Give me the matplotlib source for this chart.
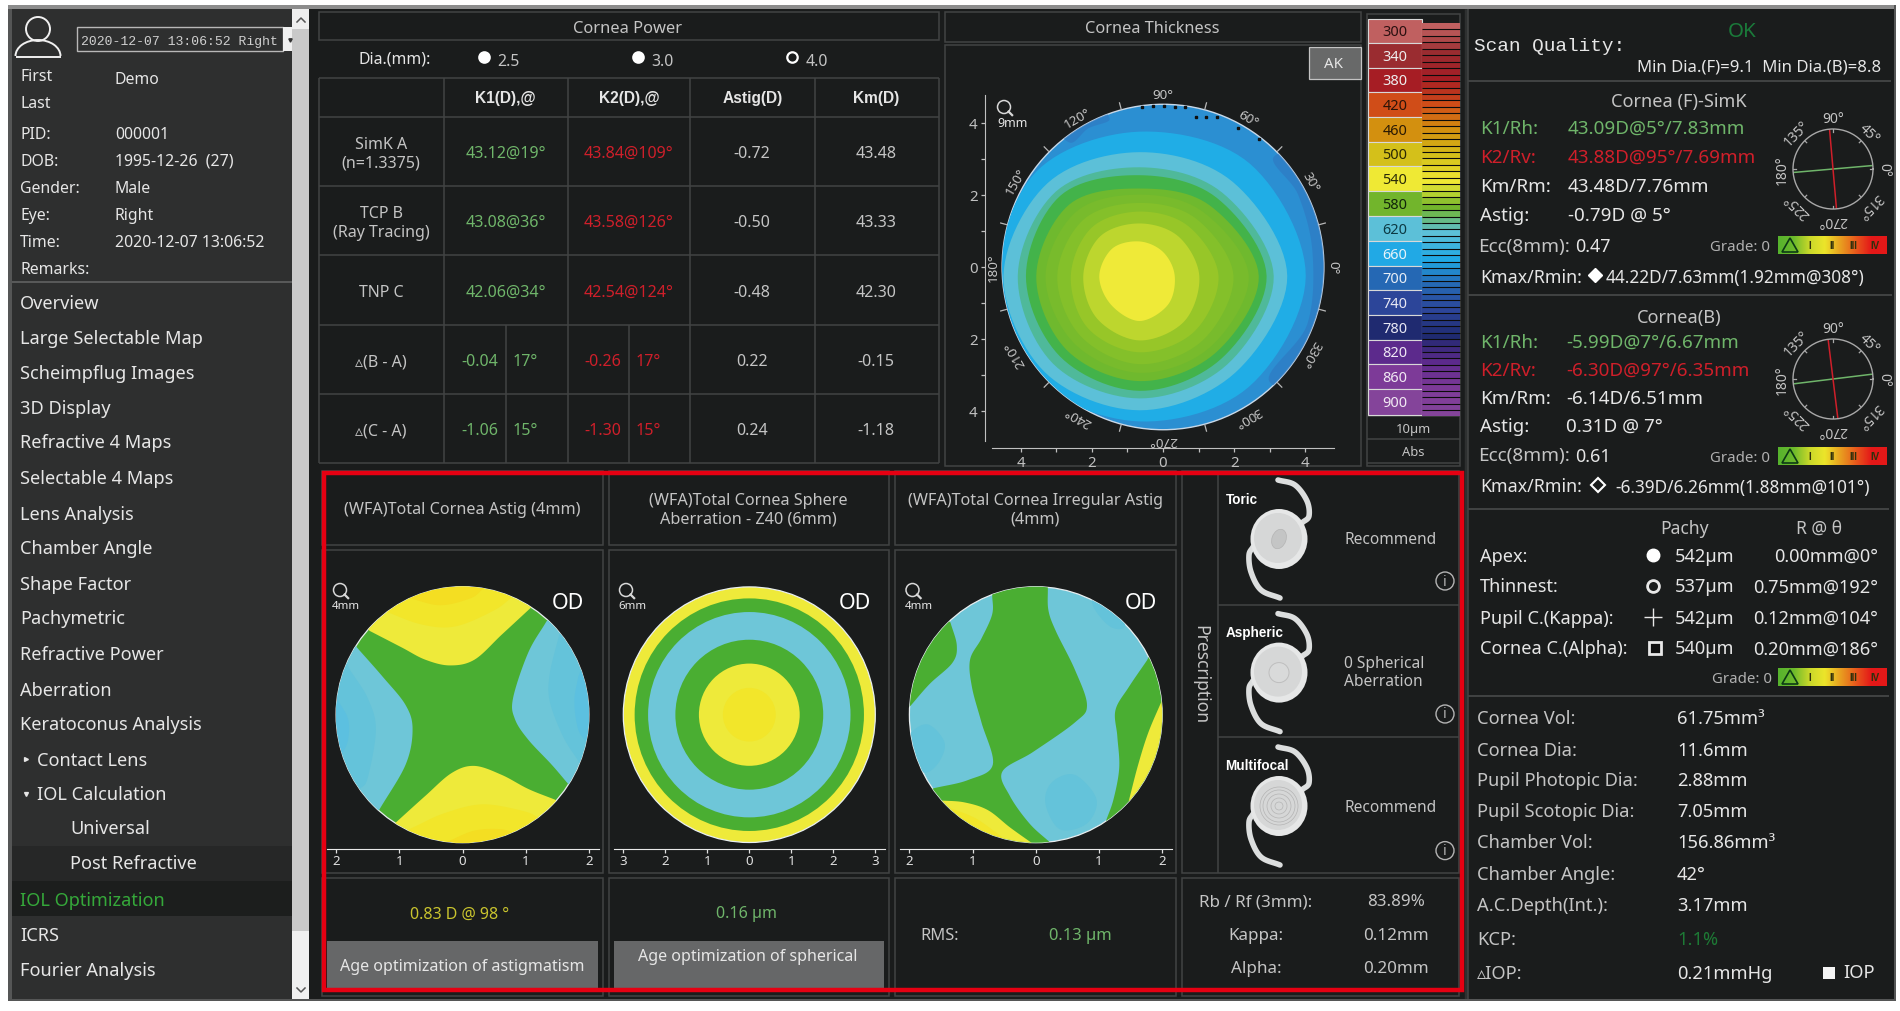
import numpy as np
import matplotlib
matplotlib.use('Agg')
import matplotlib.pyplot as plt
from matplotlib.patches import Rectangle, Ellipse, Polygon, Circle, Arc
from matplotlib.colors import LinearSegmentedColormap

plt.rcParams['font.family'] = ['Noto Sans', 'DejaVu Sans']

W, H = 1900, 1012
BG = '#1a1c1c'
PANEL = '#2e2f2f'
LINE = '#424444'
TXT = '#c4c4c4'
WHITE = '#e6e6e6'
GREEN = '#6fb56a'
RED = '#cf1f2a'
FRAME = '#e60012'
BOLD = ['Liberation Sans', 'DejaVu Sans']

# ---- left column
COMBO_TEXT = '2020-12-07 13:06:52 Right'
PATIENT_LABELS = ['First', 'Last', 'PID:', 'DOB:', 'Gender:', 'Eye:', 'Time:', 'Remarks:']
PATIENT_VALUES = ['Demo', '', '000001', '1995-12-26  (27)', 'Male', 'Right', '2020-12-07 13:06:52', '']
NAV_ITEMS = ['Overview', 'Large Selectable Map', 'Scheimpflug Images', '3D Display',
             'Refractive 4 Maps', 'Selectable 4 Maps', 'Lens Analysis', 'Chamber Angle',
             'Shape Factor', 'Pachymetric', 'Refractive Power', 'Aberration',
             'Keratoconus Analysis', 'Contact Lens', 'IOL Calculation', 'Universal',
             'Post Refractive', 'IOL Optimization', 'ICRS', 'Fourier Analysis', 'Compare 2 Exams']

# ---- cornea power table
DIA_VALUES = ['2.5', '3.0', '4.0']
TABLE_HEAD = ['K1(D),@', 'K2(D),@', 'Astig(D)', 'Km(D)']
ROW_NAMES = ['SimK A\n(n=1.3375)', 'TCP B\n(Ray Tracing)', 'TNP C', '\u25b5(B - A)', '\u25b5(C - A)']
K1_VALUES = ['43.12@19°', '43.08@36°', '42.06@34°']
K2_VALUES = ['43.84@109°', '43.58@126°', '42.54@124°']
K1_DELTA = [('-0.04', '17°'), ('-1.06', '15°')]
K2_DELTA = [('-0.26', '17°'), ('-1.30', '15°')]
ASTIG_VALUES = ['-0.72', '-0.50', '-0.48', '0.22', '0.24']
KM_VALUES = ['43.48', '43.33', '42.30', '-0.15', '-1.18']

# ---- thickness map
LEGEND_VALUES = [300, 340, 380, 420, 460, 500, 540, 580, 620, 660, 700, 740, 780, 820, 860, 900]
LEGEND_COLORS = ['#c06060', '#9a2c30', '#a61d24', '#d04d18', '#d3900f', '#d4c01a', '#efe934', '#72b52c',
                 '#5cc0d8', '#21a9e5', '#2568b4', '#2c4599', '#1f2a70', '#5c2a8c', '#7d3a98', '#84449a']
LEGEND_TEXT = ['#2a1010', '#eeeeee', '#eeeeee', '#2a1408', '#2a1a04', '#2a2804', '#2a2a08', '#10240a',
               '#0c3a44', '#e8f4fa', '#e8eef6', '#e8e8f4', '#e8e8f4', '#eee8f4', '#f2eaf4', '#f2eaf4']
STRIP_VALUES = np.arange(300, 910, 10)
THICK_DIRS = np.radians([0, 45, 90, 135, 180, 225, 270, 315])
THICK_CENTER = (-0.66, -0.25)
THICK_COLORS = ['#20ade6', '#5cc0d8', '#4fb99a', '#43b34a', '#6fb92e', '#78bb2c', '#84c02a', '#97c628', '#bdd62e', '#efea38']
THICK_BANDS = [
    [4.67, 4.40, 4.01, 4.10, 3.96, 4.06, 4.04, 4.35],
    [4.15, 3.70, 3.44, 3.65, 3.82, 3.77, 3.73, 3.80],
    [3.77, 3.28, 3.02, 3.32, 3.42, 3.44, 3.40, 3.48],
    [3.57, 3.07, 2.80, 3.15, 3.19, 3.16, 3.19, 3.25],
    [3.35, 2.78, 2.43, 2.80, 2.90, 2.90, 2.92, 3.02],
    [3.07, 2.52, 2.26, 2.52, 2.64, 2.62, 2.69, 2.80],
    [2.64, 2.25, 2.03, 2.22, 2.31, 2.35, 2.45, 2.52],
    [2.22, 1.95, 1.79, 1.90, 1.93, 2.05, 2.12, 2.18],
    [1.68, 1.55, 1.46, 1.56, 1.58, 1.68, 1.79, 1.78],
    [0.99, 0.94, 0.96, 1.08, 1.13, 1.13, 1.25, 1.13],
]
THICK_DOTS_X = [-0.59, -0.28, 0.02, 0.33, 0.62, 0.92, 1.22, 1.52, 2.12, 2.71]
THICK_DOTS_Y = [4.45, 4.47, 4.47, 4.45, 4.45, 4.16, 4.16, 4.16, 3.86, 3.55]
THICK_ANGLES = [0, 30, 60, 90, 120, 150, 180, 210, 240, 270, 300, 330]

# ---- wavefront maps, boundaries in mm
W_YELLOW, W_YELLOW2, W_YELLOW3 = '#eeea3a', '#f2e62a', '#f4de22'
W_GREEN = '#4aae32'
W_BLUE, W_BLUE2, W_BLUE3 = '#6ec6d8', '#64c3da', '#5cc0e0'
FAR = 2.7
ASTIG_REGIONS = [
    (W_YELLOW, [(-1.47, 1.31), (-0.96, 1.05), (-0.59, 0.86), (-0.20, 0.77), (0.19, 0.86), (0.62, 1.25), (1.08, 1.67)], [(FAR, FAR), (-FAR, FAR)]),
    (W_YELLOW2, [(-1.26, 1.63), (-0.65, 1.41), (-0.11, 1.38), (0.50, 1.63), (0.80, 1.85)], [(FAR, FAR), (-FAR, FAR)]),
    (W_YELLOW3, [(-0.84, 1.82), (-0.35, 1.71), (0.13, 1.82), (0.32, 1.96)], [(FAR, FAR), (-FAR, FAR)]),
    (W_YELLOW, [(-1.05, -1.68), (-0.59, -1.27), (-0.17, -0.91), (0.19, -0.80), (0.62, -0.94), (1.04, -1.16), (1.47, -1.33)], [(FAR, -FAR), (-FAR, -FAR)]),
    (W_YELLOW2, [(-0.78, -1.76), (-0.29, -1.54), (0.32, -1.40), (0.98, -1.51), (1.22, -1.62)], [(FAR, -FAR), (-FAR, -FAR)]),
    (W_YELLOW3, [(-0.23, -1.98), (0.19, -1.81), (0.62, -1.79), (0.86, -1.87)], [(FAR, -FAR), (-FAR, -FAR)]),
    (W_BLUE, [(-1.67, 1.05), (-1.26, 0.59), (-0.90, 0.15), (-0.79, -0.23), (-0.90, -0.78), (-1.32, -1.49)], [(-FAR, -FAR), (-FAR, FAR)]),
    (W_BLUE2, [(-1.78, 0.70), (-1.50, 0.26), (-1.37, -0.23), (-1.50, -0.99), (-1.62, -1.16)], [(-FAR, -FAR), (-FAR, FAR)]),
    (W_BLUE3, [(-1.96, 0.21), (-1.81, -0.07), (-1.81, -0.39), (-1.90, -0.61)], [(-FAR, -FAR), (-FAR, FAR)]),
    (W_BLUE, [(1.33, 1.46), (1.04, 0.97), (0.80, 0.26), (0.83, -0.07), (1.04, -0.39), (1.41, -0.78), (1.67, -1.08)], [(FAR, -FAR), (FAR, FAR)]),
    (W_BLUE2, [(1.53, 1.25), (1.38, 0.64), (1.38, 0.21), (1.59, -0.34), (1.83, -0.72)], [(FAR, -FAR), (FAR, FAR)]),
    (W_BLUE3, [(1.83, 0.59), (1.77, 0.21), (1.83, -0.23), (1.98, -0.45)], [(FAR, -FAR), (FAR, FAR)]),
]
SPHERE_RADII = [3.0, 2.73, 2.41, 1.76, 1.2, 0.63]
SPHERE_COLORS = [W_YELLOW, W_GREEN, W_BLUE, W_GREEN, W_YELLOW, W_YELLOW2]
IRREG_CENTER_A = [(-0.69, 1.87), (-0.69, 1.57), (-0.86, 1.19), (-1.04, 0.86), (-1.01, 0.43), (-0.86, -0.12), (-0.68, -0.78), (-1.07, -1.02), (-1.62, -1.15)]
IRREG_CENTER_B = [(0.23, -2.0), (-0.10, -1.70), (-0.41, -1.27), (-0.53, -0.89), (-0.04, -0.58), (0.62, -0.12), (0.81, 0.15), (0.62, 0.70), (0.32, 1.30), (0.20, 1.63), (0.19, 1.98)]
IRREG_REGIONS = [
    (W_GREEN, [(-1.35, 1.44), (-1.25, 1.08), (-1.32, 0.81), (-1.68, 0.48), (-1.99, 0.13)], [(-FAR, 0.1), (-FAR, FAR)]),
    (W_GREEN, [(1.76, 0.85), (1.47, 0.43), (1.26, 0.07), (1.29, -0.34), (1.32, -0.83), (1.23, -1.32), (1.11, -1.66)], [(FAR, -FAR), (FAR, FAR)]),
    (W_YELLOW, [(1.99, 0.21), (1.78, -0.28), (1.62, -0.78), (1.47, -1.35)], [(FAR, -FAR), (FAR, 0.3)]),
    (W_YELLOW, [(-1.50, -1.34), (-1.13, -1.37), (-0.76, -1.49), (-0.41, -1.76), (-0.07, -2.0)], [(-0.1, -FAR), (-FAR, -FAR)]),
    (W_YELLOW2, [(-1.35, -1.46), (-0.95, -1.62), (-0.59, -1.87), (-0.41, -2.0)], [(-0.4, -FAR), (-FAR, -FAR)]),
]
IRREG_PATCHES = [
    [(-1.68, -0.16), (-1.44, -0.45), (-1.56, -0.78), (-1.80, -0.89), (-2.04, -0.45), (-1.92, -0.23)],
    [(0.62, -0.94), (0.96, -1.32), (0.81, -1.70), (0.38, -1.79), (0.15, -1.38), (0.26, -1.05)],
    [(0.90, 1.71), (1.17, 1.38), (1.41, 1.38), (1.30, 1.75), (0.95, 2.0)],
]
MAP_TITLES = ['(WFA)Total Cornea Astig (4mm)', '(WFA)Total Cornea Sphere\nAberration - Z40 (6mm)', '(WFA)Total Cornea Irregular Astig\n(4mm)']
MAP_SIZES = ['4mm', '6mm', '4mm']

# ---- prescription
LENS_NAMES = ['Toric', 'Aspheric', 'Multifocal']
LENS_NOTES = ['Recommend', '0 Spherical\nAberration', 'Recommend']
RATIO_LABELS = ['Rb / Rf (3mm):', 'Kappa:', 'Alpha:']
RATIO_VALUES = ['83.89%', '0.12mm', '0.20mm']

# ---- right column
FRONT_LABELS = ['K1/Rh:', 'K2/Rv:', 'Km/Rm:', 'Astig:']
FRONT_VALUES = ['43.09D@5°/7.83mm', '43.88D@95°/7.69mm', '43.48D/7.76mm', '-0.79D @ 5°']
BACK_VALUES = ['-5.99D@7°/6.67mm', '-6.30D@97°/6.35mm', '-6.14D/6.51mm', '0.31D @ 7°']
FRONT_AXES = [5, 95]
BACK_AXES = [7, 97]
COMPASS_ANGLES = [0, 45, 90, 135, 180, 225, 270, 315]
GRADE_COLORS = ['#56b32e', '#6cba2c', '#c8d82a', '#ece52a', '#e8a020', '#e85a1c', '#e41818', '#e41818']
GRADE_MARKS = ['I', 'II', 'III', 'IV']
PACHY_LABELS = ['Apex:', 'Thinnest:', 'Pupil C.(Kappa):', 'Cornea C.(Alpha):']
PACHY_VALUES = ['542µm', '537µm', '542µm', '540µm']
PACHY_POS = ['0.00mm@0°', '0.75mm@192°', '0.12mm@104°', '0.20mm@186°']
EXTRA_LABELS = ['Cornea Vol:', 'Cornea Dia:', 'Pupil Photopic Dia:', 'Pupil Scotopic Dia:', 'Chamber Vol:',
                'Chamber Angle:', 'A.C.Depth(Int.):', 'KCP:', '\u25b5IOP:']
EXTRA_VALUES = ['61.75mm³', '11.6mm', '2.88mm', '7.05mm', '156.86mm³', '42°', '3.17mm', '1.1%', '0.21mmHg']

fig = plt.figure(figsize=(W / 100, H / 100), dpi=100, facecolor='white')
main = fig.add_axes([0, 0, 1, 1], zorder=0)
main.axis('off')


def t(x, y, s, px=16, color=TXT, ha='left', va='center', **kw):
    return main.text(x, y + 1.5, s, fontsize=px * 0.72, color=color, ha=ha, va=va, **kw)


def rect(x0, y0, x1, y1, fc='none', ec='none', lw=0, z=1):
    main.add_patch(Rectangle((x0, y0), x1 - x0, y1 - y0, fc=fc, ec=ec, lw=lw, zorder=z))


def box(x0, y0, x1, y1):
    rect(x0, y0, x1, y1, ec=LINE, lw=1.1, z=2)


def hline(x0, x1, y, color=LINE, lw=1.1, z=2):
    main.plot([x0, x1], [y, y], color=color, lw=lw, zorder=z, solid_capstyle='butt')


def vline(x, y0, y1, color=LINE, lw=1.1, z=2):
    main.plot([x, x], [y0, y1], color=color, lw=lw, zorder=z, solid_capstyle='butt')


def smooth(pts, closed=False, n=14):
    # catmull-rom through the read points
    p = np.array(pts, dtype=float)
    if len(p) < 3 and not closed:
        return p
    if closed:
        p = np.vstack([p[-1], p, p[0], p[1]])
    else:
        p = np.vstack([2 * p[0] - p[1], p, 2 * p[-1] - p[-2]])
    out = []
    u = np.linspace(0, 1, n, endpoint=False)[:, None]
    for i in range(1, len(p) - 2):
        a, b, c, d = p[i - 1], p[i], p[i + 1], p[i + 2]
        out.append(0.5 * (2 * b + (c - a) * u + (2 * a - 5 * b + 4 * c - d) * u ** 2 + (3 * b - a - 3 * c + d) * u ** 3))
    out = np.vstack(out)
    if not closed:
        out = np.vstack([out, p[-2]])
    return out


def map_axes(cx, cy, ppx, ppy, left, right, top, bottom):
    ax = fig.add_axes([left / W, 1 - bottom / H, (right - left) / W, (bottom - top) / H], zorder=3)
    ax.set_xlim((left - cx) / ppx, (right - cx) / ppx)
    ax.set_ylim((cy - bottom) / ppy, (cy - top) / ppy)
    ax.patch.set_alpha(0)
    return ax


def magnifier(x, y, r, label, lx, ly, px=12):
    main.add_patch(Circle((x, y), r, fc='none', ec='#d8d8d8', lw=1.1, zorder=5))
    main.plot([x + r * 0.7, x + r * 1.25], [y + r * 0.7, y + r * 1.25], color='#d8d8d8', lw=1.6, zorder=5)
    t(lx, ly, label, px=px, color=WHITE, zorder=5)


def grade_bar(y0, y1, x0=1778, x1=1887):
    cmap = LinearSegmentedColormap.from_list('grade', GRADE_COLORS)
    main.imshow(np.linspace(0, 1, 256)[None, :], extent=(x0, x1, y1, y0), aspect='auto', cmap=cmap, zorder=3)
    ym = (y0 + y1) / 2
    main.add_patch(Polygon([(x0 + 4, y1 - 2), (x0 + 20, y1 - 2), (x0 + 12, y0 + 2)], fc='none', ec='#0c3a14', lw=1.2, zorder=4))
    for i, m in enumerate(GRADE_MARKS):
        main.text(x0 + 32 + i * 21.8, ym, m, fontsize=7, color='#30300c', ha='center', va='center',
                  fontweight='bold', family=BOLD, zorder=4)


def compass(cx, cy, axes_deg):
    r = 40
    ax = fig.add_axes([(cx - r) / W, 1 - (cy + r) / H, 2 * r / W, 2 * r / H], projection='polar', zorder=3)
    ax.patch.set_alpha(0)
    ax.set_ylim(0, 1)
    ax.set_xticks([])
    ax.set_yticks([])
    ax.spines['polar'].set_color('#a8a8a8')
    ax.spines['polar'].set_linewidth(1.0)
    for a, c in zip(axes_deg, [GREEN, RED]):
        th = np.radians(a)
        ax.plot([th, th + np.pi], [1, 1], color=c, lw=1.1)
    for a in COMPASS_ANGLES:
        th = np.radians(a)
        ax.plot([th, th], [0.93, 1.0], color='#a8a8a8', lw=0.9)
        ax.text(th, 1.27, '%d°' % a, fontsize=10, color=TXT, rotation=a - 90, ha='center', va='center',
                rotation_mode='anchor', clip_on=False)


def lens(cx, cy, kind):
    col = '#dcdede'
    for off in ([(-1, -59), (16, -54), (28, -38), (30, -23), (24, -17), (20, -14)], [(-26, 8), (-30, 16), (-28, 33), (-18, 51), (1, 59)]):
        pts = smooth([(cx + a, cy + b) for a, b in off])
        main.plot(pts[:, 0], pts[:, 1], color=col, lw=4.0, solid_capstyle='round', zorder=3)
    main.add_patch(Ellipse((cx, cy), 57, 60, fc='#e6e7e7', ec='none', zorder=4))
    main.add_patch(Ellipse((cx - 1, cy - 1), 48, 50, fc='#d6d7d7', ec='none', zorder=4))
    if kind == 0:
        main.add_patch(Ellipse((cx, cy), 14, 20, angle=20, fc='#c4c5c5', ec='#b4b4b4', lw=0.5, zorder=5))
    elif kind == 1:
        main.add_patch(Circle((cx, cy), 10, fc='#d9dada', ec='#bebebe', lw=0.7, zorder=5))
    else:
        for rr in [4, 8, 12, 16, 19]:
            main.add_patch(Circle((cx, cy), rr, fc='none', ec='#b4b4b4', lw=0.5, zorder=5))


# ---- frame and column backgrounds
rect(0, 0, W, H, fc='white', z=0)
rect(8, 6, 1896, 1001, fc=BG, z=0.2)
rect(8, 6, 1896, 10, fc='#8c8c8c', z=0.3)
rect(8, 10, 12, 1001, fc='#555656', z=0.3)
rect(12, 10, 292, 1001, fc=PANEL, z=0.3)
rect(292, 10, 309, 932, fc='#c9c9c9', z=0.3)
rect(292, 932, 309, 1001, fc='#f0f0f0', z=0.3)
rect(292, 10, 309, 30, fc='#eeeeee', z=0.35)
main.plot([297, 301, 305], [23, 19, 23], color='#555555', lw=1.1, zorder=1)
main.plot([297, 301, 305], [989, 993, 989], color='#555555', lw=1.1, zorder=1)

# ---- patient block
main.add_patch(Circle((38, 30), 12, fc='none', ec='#f0f0f0', lw=1.4, zorder=2))
main.add_patch(Arc((38, 57), 45, 32, theta1=180, theta2=360, ec='#f0f0f0', lw=1.4, zorder=2))
hline(15.5, 60.5, 57.5, color='#f0f0f0', lw=1.4)
rect(77, 28, 283, 52, fc=PANEL, ec='#b8b8b8', lw=1.0, z=2)
rect(283, 28, 292, 52, fc='#efefef', z=2)
main.plot([290], [41], marker='v', ms=2.4, color='#333333', zorder=3)
t(81, 40, COMBO_TEXT, px=13.1, color='#d0d0d0', family='Liberation Mono')
patient_y = [75, 102, 133, 160, 187, 214, 241, 268]
for lab, val, y in zip(PATIENT_LABELS, PATIENT_VALUES, patient_y):
    t(20, y, lab, px=15.8, color=WHITE)
    if val:
        t(115, y + (3 if lab == 'First' else 0), val, px=15.8, color=WHITE)
hline(12, 292, 283, color='#5a5b5b', lw=1.4)

# ---- navigation
nav_y = [302, 337, 372, 407, 442, 477, 513, 548, 583, 618, 653, 689, 724, 759, 794, 828, 863, 900, 935, 970, 1006]
rect(12, 847, 292, 882, fc='#262727', z=0.4)
rect(12, 882, 292, 917, fc='#1c1e1d', z=0.4)
for item, y in zip(NAV_ITEMS, nav_y):
    x = 20
    col = WHITE
    if item in ('Contact Lens', 'IOL Calculation', 'Compare 2 Exams'):
        x = 37
    if item in ('Universal', 'Post Refractive'):
        x = 70
    if item == 'IOL Optimization':
        col = '#35a83a'
    t(x, y, item, px=18.2, color=col, clip_on=True)
main.plot([26], [760], marker='>', ms=2.8, color=WHITE, zorder=3)
main.plot([26], [795], marker='v', ms=2.8, color=WHITE, zorder=3)

# ---- cornea power
box(319, 13, 939, 41)
t(628, 27, 'Cornea Power', px=16.5, ha='center')
t(395, 58, 'Dia.(mm):', px=15.8, ha='center', color=WHITE)
for x, v, opened in zip([483.5, 637.8, 792.4], DIA_VALUES, [False, False, True]):
    main.plot([x], [58], marker='o', ms=7.5, mfc=BG if opened else 'white', mec='white', mew=1.6, zorder=3)
    t(x + 13.5, 60, v, px=15.8)
col_x = [319, 443.5, 567.6, 690.4, 814.5, 938.6]
row_y = [79, 118, 187, 256, 326, 395, 464]
for x in col_x:
    vline(x, row_y[0], row_y[-1])
for y in row_y:
    hline(col_x[0], col_x[-1], y)
vline(505.5, row_y[4], row_y[6])
vline(628.8, row_y[4], row_y[6])
for i, h in enumerate(TABLE_HEAD):
    t((col_x[i + 1] + col_x[i + 2]) / 2, 97, h, px=15.5, ha='center', color=WHITE, fontweight='bold', family=BOLD)
for r, name in enumerate(ROW_NAMES):
    ym = (row_y[r + 1] + row_y[r + 2]) / 2
    t(381, ym, name, px=16, ha='center', linespacing=1.25)
    t(752, ym, ASTIG_VALUES[r], px=16, ha='center')
    t(876, ym, KM_VALUES[r], px=16, ha='center')
    if r < 3:
        t(505.5, ym, K1_VALUES[r], px=16, ha='center', color=GREEN)
        t(628.8, ym, K2_VALUES[r], px=16, ha='center', color=RED)
    else:
        a, b = K1_DELTA[r - 3]
        t(480, ym, a, px=16, ha='center', color=GREEN)
        t(525, ym, b, px=16, ha='center', color=GREEN)
        a, b = K2_DELTA[r - 3]
        t(603, ym, a, px=16, ha='center', color=RED)
        t(648, ym, b, px=16, ha='center', color=RED)

# ---- cornea thickness
box(945, 13, 1361, 43)
t(1152, 27, 'Cornea Thickness', px=16.3, ha='center')
box(945, 46, 1361, 467)
rect(1309, 48, 1361, 80, fc='#686969', ec='#c4c4c4', lw=0.9, z=2)
t(1333, 63, 'AK', px=15, ha='center', color=WHITE, zorder=3)

ax = map_axes(1163, 268, 35.6, 36, 984.6, 1334, 96, 449.3)
disc = Circle((0, 0), 4.52, fc='#2b8fd2', ec='#c8d8e8', lw=1.0, zorder=1)
ax.add_patch(disc)
for zone in ([(3.15, 3.1), (3.8, 2.0), (4.2, 0.4), (4.05, -1.6), (3.0, -3.2), (5.5, -3.3), (5.5, 3.2)],
             [(-2.6, 3.45), (-2.1, 3.85), (-1.5, 4.1), (-2.0, 4.5), (-3.0, 4.0)]):
    pg = Polygon(smooth(zone, closed=True), fc='#2f78c2', ec='none', alpha=0.65, zorder=1.5)
    ax.add_patch(pg)
    pg.set_clip_path(disc)
for band, col in zip(THICK_BANDS, THICK_COLORS):
    pts = [(THICK_CENTER[0] + r * np.cos(a), THICK_CENTER[1] + r * np.sin(a)) for r, a in zip(band, THICK_DIRS)]
    pg = Polygon(smooth(pts, closed=True), fc=col, ec='none', zorder=2)
    ax.add_patch(pg)
    pg.set_clip_path(disc)
ax.plot(THICK_DOTS_X, THICK_DOTS_Y, ls='none', marker='s', ms=1.6, color='#101010', zorder=3)
for a in np.arange(15, 360, 30):
    th = np.radians(a)
    ax.plot([4.55 * np.cos(th), 4.72 * np.cos(th)], [4.55 * np.sin(th), 4.72 * np.sin(th)], color='#b8b8b8', lw=0.9, zorder=3)
for a in THICK_ANGLES:
    th = np.radians(a)
    ax.text(4.78 * np.cos(th), 4.78 * np.sin(th), '%d°' % a, fontsize=9.7, color=TXT, rotation=a - 90,
            ha='center', va='center', rotation_mode='anchor', zorder=3, clip_on=False)
for s in ['top', 'right']:
    ax.spines[s].set_visible(False)
for s in ['left', 'bottom']:
    ax.spines[s].set_color('#c0c0c0')
ax.spines['left'].set_bounds(-4.83, 4.78)
ax.spines['bottom'].set_bounds(-4.8, 4.8)
ax.set_xticks([-4, -2, 0, 2, 4])
ax.set_xticks([-3, -1, 1, 3], minor=True)
ax.set_yticks([-4, -2, 0, 2, 4])
ax.set_yticks([-3, -1, 1, 3], minor=True)
ax.set_xticklabels(['4', '2', '0', '2', '4'])
ax.set_yticklabels(['4', '2', '0', '2', '4'])
ax.tick_params(which='both', colors='#c0c0c0', labelsize=10.8, length=3, width=0.9, pad=2)
magnifier(1004, 108, 6.5, '9mm', 997, 122, px=12.5)

# ---- colour legend
box(1367, 15, 1460, 467)
legend_edges = [20, 44, 69, 93, 118, 143, 167, 192, 217, 242, 267, 291, 316, 341, 365, 390, 416]
for i, (v, c, tc) in enumerate(zip(LEGEND_VALUES, LEGEND_COLORS, LEGEND_TEXT)):
    y0, y1 = legend_edges[i], legend_edges[i + 1]
    rect(1367.6, y0, 1422.4, y1, fc=c, ec='#d8d8d8', lw=0.8, z=3)
    t(1395, (y0 + y1) / 2 - 1, str(v), px=14.5, ha='center', color=tc, zorder=4)
strip_cmap = LinearSegmentedColormap.from_list('thick', LEGEND_COLORS)
strip_frac = (STRIP_VALUES - 300) / 600.0
strip_y = 24 + strip_frac * 387
main.barh(strip_y, [37.6] * len(strip_y), height=6.45, left=1422.4, color=strip_cmap(strip_frac), zorder=3, align='edge')
main.hlines(strip_y[1:], 1422.4, 1460, color='#0c0c0c', lw=0.8, zorder=4)
hline(1367, 1460, 417)
hline(1367, 1460, 440)
hline(1367, 1460, 464)
t(1413, 428, '10µm', px=13, ha='center')
t(1413, 451, 'Abs', px=13, ha='center')

# ---- WFA columns
map_cols = [(322, 603), (609, 889), (895, 1176)]
for (x0, x1), title in zip(map_cols, MAP_TITLES):
    box(x0, 472, x1, 546)
    box(x0, 550.5, x1, 874)
    box(x0, 879, x1, 997)
    t((x0 + x1) / 2 - 0.5, 509, title, px=16.2, ha='center', linespacing=1.25)

map_specs = [(462.5, 63.2, 64, 326.8, 599, 2), (749.3, 42, 42.6, 613.5, 885, 3), (1035.8, 63.2, 64, 900, 1172, 2)]
for i, (cx, ppx, ppy, left, right, lim) in enumerate(map_specs):
    ax = map_axes(cx, 715.7, ppx, ppy, left, right, 580, 849.5)
    disc = Circle((0, 0), lim, fc=W_GREEN if i == 0 else W_BLUE, ec='#e8eef0', lw=0.9, zorder=1)
    ax.add_patch(disc)
    shapes = []
    if i == 0:
        for col, curve, far in ASTIG_REGIONS:
            shapes.append((col, np.vstack([smooth(curve), far])))
    if i == 2:
        for pts in IRREG_PATCHES:
            shapes.append((W_BLUE2, smooth(pts, closed=True)))
        shapes.append((W_GREEN, np.vstack([smooth(IRREG_CENTER_A), [(-FAR, -1.6), (-FAR, -FAR), (0.3, -FAR)],
                                           smooth(IRREG_CENTER_B), [(0.25, FAR), (-0.8, FAR)]])))
        for col, curve, far in IRREG_REGIONS:
            shapes.append((col, np.vstack([smooth(curve), far])))
    for col, pts in shapes:
        pg = Polygon(pts, fc=col, ec='none', zorder=2)
        ax.add_patch(pg)
        pg.set_clip_path(disc)
    if i == 1:
        for r, col in zip(SPHERE_RADII, SPHERE_COLORS):
            ax.add_patch(Circle((0, 0), r, fc=col, ec='none', zorder=2))
        disc.set_zorder(3)
        disc.set_facecolor('none')
    for s in ['top', 'right', 'left']:
        ax.spines[s].set_visible(False)
    ax.spines['bottom'].set_color('#e8e8e8')
    ticks = list(range(-lim, lim + 1))
    ax.set_yticks([])
    ax.set_xticks(ticks)
    ax.set_xticklabels([str(abs(v)) for v in ticks])
    ax.tick_params(axis='x', colors='#e0e0e0', labelsize=9.6, length=3, width=0.9, pad=1)

for mx, lx, odx, size in zip([340, 626, 912.5], [331.4, 618, 904.5], [568, 854.6, 1141], MAP_SIZES):
    magnifier(mx, 591, 6.5, size, lx, 605, px=11.5)
    t(odx, 602, 'OD', px=21.5, ha='center', color='white', zorder=5)

# ---- results row
t(460, 913, '0.83 D @ 98 °', px=16, ha='center', color='#c9c42e')
t(746.7, 913, '0.16 µm', px=16, ha='center', color=GREEN)
rect(327, 941.6, 598, 992, fc='#666768', z=2)
rect(613.5, 941.6, 884, 992, fc='#666768', z=2)
t(462, 966, 'Age optimization of astigmatism', px=16, ha='center', color=WHITE, zorder=3)
t(747.5, 956, 'Age optimization of spherical', px=16, ha='center', color=WHITE, zorder=3)
t(920, 935, 'RMS:', px=16.5, color=TXT)
t(1080, 935, '0.13 µm', px=16.5, ha='center', color=GREEN)

# ---- prescription block
box(1182, 472, 1459, 874)
box(1182, 879, 1459, 997)
vline(1218, 472, 874)
hline(1218, 1459, 605.6)
hline(1218, 1459, 738)
main.text(1200, 675, 'Prescription', fontsize=17.5 * 0.72, color=TXT, ha='center', va='center', rotation=270)
for k, (ly, ny, iy, name, note, note_y) in enumerate(zip([540, 673.6, 807], [499, 631.4, 764], [582, 715, 851.6],
                                                         LENS_NAMES, LENS_NOTES, [539, 671.5, 806.6])):
    lens(1279, ly, k)
    t(1225.6, ny, name, px=13.5, color='white', fontweight='bold', family=BOLD, zorder=6)
    t(1344, note_y, note, px=15.5, color=TXT, linespacing=1.2)
    main.add_patch(Circle((1445, iy), 9, fc='none', ec='#b4b4b4', lw=1.0, zorder=3))
    t(1445, iy - 1.5, 'i', px=14, ha='center', color='#b4b4b4')
for y, lab, val in zip([901, 934.5, 967.5], RATIO_LABELS, RATIO_VALUES):
    t(1256, y, lab, px=17, ha='center')
    t(1396, y, val, px=17, ha='center')

# ---- red highlight frame
main.add_patch(Rectangle((323.8, 474.4), 1461.7 - 323.8, 991 - 474.4, fc='none', ec=FRAME, lw=3.2, zorder=8))

# ---- right column
vline(1466, 10, 1001, color='#2e3030', lw=2.5)
vline(1468, 10, 1001, color=LINE)
t(1474, 45, 'Scan Quality:', px=19.4, color=WHITE, family='Liberation Mono')
t(1742, 30, 'OK', px=20.5, ha='center', color='#1a7a3a')
t(1881, 66, 'Min Dia.(F)=9.1  Min Dia.(B)=8.8', px=16.7, ha='right', color=WHITE)
hline(1468, 1891, 82, lw=1.4)
t(1679, 100, 'Cornea (F)-SimK', px=18.2, ha='center')
for y, lab, val, c in zip([127, 156, 185, 214], FRONT_LABELS, FRONT_VALUES, [GREEN, RED, WHITE, WHITE]):
    t(1480, y, lab, px=18.8, color=c)
    t(1568, y, val, px=18.8, color=c)
t(1478, 245, 'Ecc(8mm):', px=19)
t(1575, 245, '0.47', px=18, color=WHITE)
t(1770, 245.5, 'Grade: 0', px=15, ha='right', color='#b0b0b0')
grade_bar(237, 255)
t(1480, 276, 'Kmax/Rmin:', px=17.8, color=WHITE)
main.plot([1595], [276], marker='D', ms=7, mfc='white', mec='white', zorder=3)
t(1606, 276, '44.22D/7.63mm(1.92mm@308°)', px=17.2, color=WHITE)
hline(1468, 1892, 296, lw=1.4)
compass(1833, 170, FRONT_AXES)

t(1679, 316, 'Cornea(B)', px=18.2, ha='center')
for y, lab, val, c in zip([341, 369, 397, 425], FRONT_LABELS, BACK_VALUES, [GREEN, RED, WHITE, WHITE]):
    t(1480, y, lab, px=18.8, color=c)
    t(1566, y, val, px=18.8, color=c)
t(1478, 455, 'Ecc(8mm):', px=19)
t(1575, 455, '0.61', px=18, color=WHITE)
t(1770, 456.5, 'Grade: 0', px=15, ha='right', color='#b0b0b0')
grade_bar(448, 466)
t(1480, 486, 'Kmax/Rmin:', px=17.8, color=WHITE)
main.plot([1598], [486], marker='D', ms=7.5, mfc=BG, mec='white', mew=1.5, zorder=3)
t(1615, 486, '-6.39D/6.26mm(1.88mm@101°)', px=17.2, color=WHITE)
compass(1833, 380, BACK_AXES)
hline(1468, 1889, 510, lw=1.4)

t(1684, 527, 'Pachy', px=17.5, ha='center')
t(1819, 527, 'R @ θ', px=17.5, ha='center')
for y, lab, v, p in zip([555, 586, 617, 648], PACHY_LABELS, PACHY_VALUES, PACHY_POS):
    t(1480, y, lab, px=18.2, color=WHITE)
    t(1675, y, v, px=18.2, color=WHITE)
    t(1878, y, p, px=18.2, ha='right', color=WHITE)
main.plot([1653], [556], marker='o', ms=9, mfc='white', mec='white', zorder=3)
main.plot([1653], [587], marker='o', ms=8.5, mfc=BG, mec='#e8e8e8', mew=2, zorder=3)
main.plot([1653], [618], marker='+', ms=13, mec='#e8e8e8', mew=1.0, zorder=3)
main.plot([1655], [649], marker='s', ms=8.5, mfc='#101010', mec='#e8e8e8', mew=2, zorder=3)
t(1772, 678, 'Grade: 0', px=15, ha='right', color='#b0b0b0')
grade_bar(669, 687)
hline(1468, 1889, 697, lw=1.4)

extra_y = [718, 749, 780, 811, 842, 874, 905, 939, 973]
for y, lab, val in zip(extra_y, EXTRA_LABELS, EXTRA_VALUES):
    t(1477, y, lab, px=18.3)
    t(1677, y, val, px=18.3, color='#1d7a35' if lab == 'KCP:' else WHITE)
rect(1823, 968, 1835, 980, fc='#f4f4f4', z=3)
t(1843, 972, 'IOP', px=18.3, color=WHITE)

# ---- outer edges over any clipped text
rect(0, 1001, W, H, fc='white', z=9)
rect(1896, 0, W, H, fc='white', z=9)
rect(1894, 6, 1896, 1001, fc='#555656', z=9)
rect(8, 999.5, 1896, 1001.5, fc='#555656', z=9)
rect(0, 0, W, 5, fc='white', z=9)

main.set_xlim(0, W)
main.set_ylim(H, 0)
main.set_aspect('auto')
fig.savefig('out.png', dpi=100, facecolor='white')
